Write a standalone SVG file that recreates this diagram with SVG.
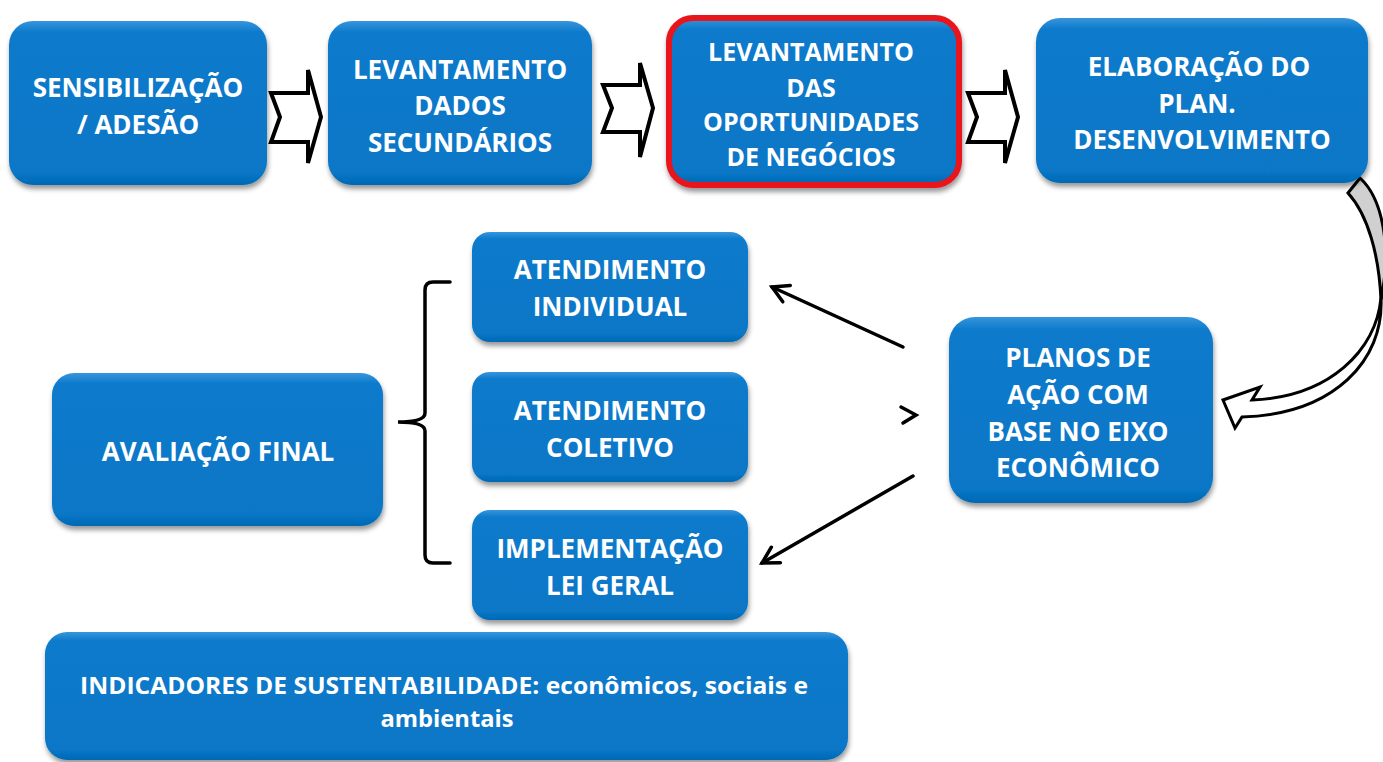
<svg xmlns="http://www.w3.org/2000/svg" width="1383" height="762" viewBox="0 0 1383 762">
<defs>
<style>
.box{fill:url(#blue);filter:url(#sh);}
.t{font-family:"Open Sans","Liberation Sans",sans-serif;font-weight:700;font-size:26px;fill:#ffffff;text-anchor:middle;}
.t3{font-family:"Open Sans","Liberation Sans",sans-serif;font-weight:700;font-size:25px;fill:#ffffff;text-anchor:middle;}
.tb{font-family:"Open Sans","Liberation Sans",sans-serif;font-weight:700;font-size:23px;fill:#ffffff;text-anchor:middle;}
.chev{fill:#ffffff;stroke:#000000;stroke-width:4;stroke-linejoin:miter;}
.ln{fill:none;stroke:#000000;stroke-width:3.5;stroke-linecap:round;}
.cv{stroke:#000000;stroke-width:3;stroke-linejoin:miter;}
</style>
<linearGradient id="blue" x1="0" y1="0" x2="0" y2="1">
<stop offset="0" stop-color="#3895dc"/>
<stop offset="0.07" stop-color="#0a7acb"/>
<stop offset="0.92" stop-color="#0777c7"/>
<stop offset="1" stop-color="#0569b5"/>
</linearGradient>
<filter id="sh" x="-10%" y="-10%" width="120%" height="130%">
<feDropShadow dx="1" dy="4" stdDeviation="2.5" flood-color="#000000" flood-opacity="0.4"/>
</filter>
<marker id="open" viewBox="-20 -12 24 24" markerWidth="24" markerHeight="24" refX="0" refY="0" orient="auto" markerUnits="userSpaceOnUse">
<path d="M-16,-9 L0,0 L-16,9" fill="none" stroke="#000000" stroke-width="3.5" stroke-linecap="round"/>
</marker>
</defs>
<rect width="1383" height="762" fill="#ffffff"/>

<g id="connectors">
<polygon class="chev" points="271,93 308,93 308,70 321,117 308,163 308,142 271,142 280,117"/>
<polygon class="chev" points="603,85 640,85 640,63 653,108 640,157 640,132 603,132 612,108"/>
<polygon class="chev" points="968,93 1005,93 1005,70 1018,117 1005,163 1005,142 968,142 977,117"/>
<path class="cv" fill="#d0d0d0" d="M1348,193 L1360,178 C1382,198 1392,245 1381,300 C1379,255 1368,215 1348,193 Z"/>
<path class="cv" fill="#ffffff" d="M1381,298 C1376,350 1330,397 1252,400 L1260,387 L1223,400 L1235,428 L1242,417 C1335,414 1384,360 1381,298 Z"/>
<line class="ln" x1="903" y1="347" x2="772" y2="287" marker-end="url(#open)"/>
<line class="ln" x1="913" y1="476" x2="762" y2="563" marker-end="url(#open)"/>
<polyline class="ln" points="901,407 916,415 903,423"/>
<path class="ln" d="M450,282 L433,282 Q425,282 425,290 L425,413 Q425,422 398,422 Q425,422 425,431 L425,555 Q425,563 433,563 L450,563"/>
</g>

<g id="n1">
<rect class="box" x="9" y="21" width="258" height="164" rx="24"/>
<text class="t" x="138" y="97">SENSIBILIZAÇÃO</text>
<text class="t" x="138" y="134">/ ADESÃO</text>
</g>
<g id="n2">
<rect class="box" x="328" y="21" width="264" height="164" rx="24"/>
<text class="t" x="460" y="79">LEVANTAMENTO</text>
<text class="t" x="460" y="115">DADOS</text>
<text class="t" x="460" y="152">SECUNDÁRIOS</text>
</g>
<g id="n3">
<rect class="box" x="669" y="18" width="290" height="167" rx="24" stroke="#e8141c" stroke-width="6"/>
<text class="t3" x="811" y="61">LEVANTAMENTO</text>
<text class="t3" x="811" y="97">DAS</text>
<text class="t3" x="811" y="131">OPORTUNIDADES</text>
<text class="t3" x="811" y="166">DE NEGÓCIOS</text>
</g>
<g id="n4">
<rect class="box" x="1036" y="18" width="332" height="165" rx="24"/>
<text class="t" x="1199" y="76">ELABORAÇÃO DO</text>
<text class="t" x="1197" y="113">PLAN.</text>
<text class="t" x="1202" y="149">DESENVOLVIMENTO</text>
</g>
<g id="n5">
<rect class="box" x="949" y="317" width="264" height="186" rx="26"/>
<text class="t" x="1078" y="367">PLANOS DE</text>
<text class="t" x="1078" y="404">AÇÃO COM</text>
<text class="t" x="1078" y="441">BASE NO EIXO</text>
<text class="t" x="1078" y="477">ECONÔMICO</text>
</g>
<g id="n6">
<rect class="box" x="472" y="232" width="276" height="110" rx="18"/>
<text class="t" x="610" y="279">ATENDIMENTO</text>
<text class="t" x="610" y="316">INDIVIDUAL</text>
</g>
<g id="n7">
<rect class="box" x="472" y="372" width="276" height="110" rx="18"/>
<text class="t" x="610" y="420">ATENDIMENTO</text>
<text class="t" x="610" y="457">COLETIVO</text>
</g>
<g id="n8">
<rect class="box" x="472" y="510" width="276" height="110" rx="18"/>
<text class="t" x="610" y="558">IMPLEMENTAÇÃO</text>
<text class="t" x="610" y="595">LEI GERAL</text>
</g>
<g id="n9">
<rect class="box" x="52" y="373" width="331" height="153" rx="22"/>
<text class="t" x="218" y="461">AVALIAÇÃO FINAL</text>
</g>
<g id="n10">
<rect class="box" x="45" y="632" width="803" height="128" rx="22"/>
<text class="tb" x="444" y="694" textLength="728" lengthAdjust="spacingAndGlyphs">INDICADORES DE SUSTENTABILIDADE: econômicos, sociais e</text>
<text class="tb" x="447" y="727" textLength="133" lengthAdjust="spacingAndGlyphs">ambientais</text>
</g>
</svg>
